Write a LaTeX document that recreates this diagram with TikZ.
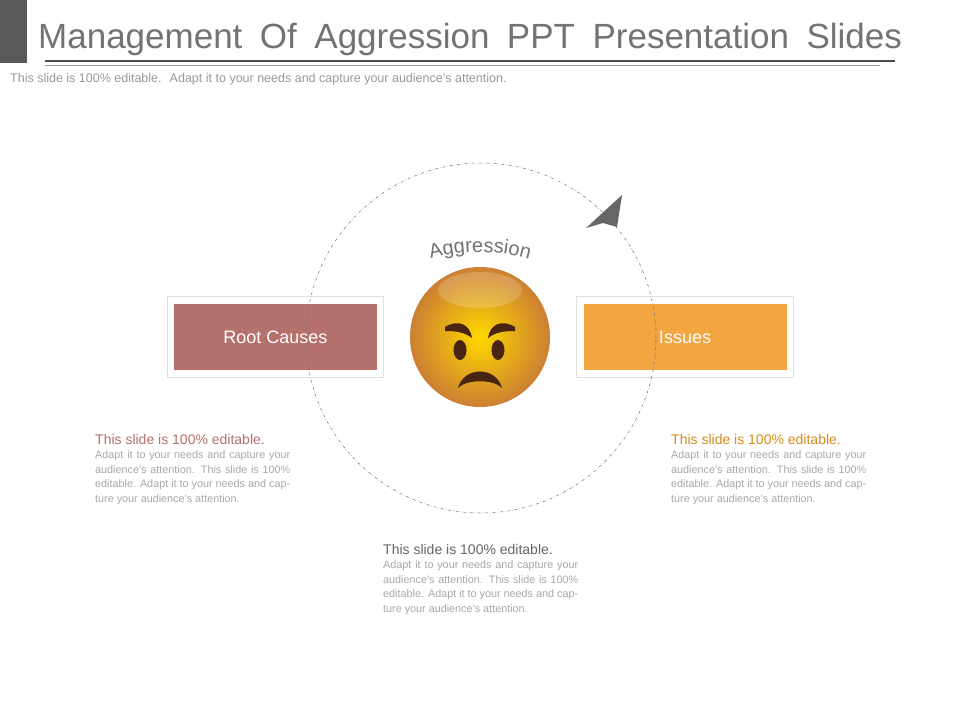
\documentclass[tikz,border=0pt]{standalone}
\usepackage{fontspec}
\setmainfont{Liberation Sans}
\usetikzlibrary{decorations.text,shadows}
\definecolor{rootc}{HTML}{B5716B}
\definecolor{issc}{HTML}{F2A541}
\definecolor{isst}{HTML}{D98B1A}
\definecolor{bodyg}{HTML}{A8A8A8}
\definecolor{brownf}{HTML}{4A2412}
\tikzset{
 frame/.style={fill=white,draw=black!12,line width=0.6pt},
 bar/.style={minimum width=203pt,minimum height=66pt,text=white,font=\fontsize{18}{20}\selectfont},
 blk/.style={text width=195pt,align=justify,anchor=north west,inner sep=0pt,text=bodyg,font=\fontsize{10.8}{14.5}\selectfont},
}
\newcommand{\blocktext}[1]{\hyphenpenalty=10000\exhyphenpenalty=10000{\color{#1}\fontsize{14}{17}\selectfont This slide is 100\% editable.}\par Adapt it to your needs and capture your audience's attention. This slide is 100\% editable. Adapt it to your needs and capture your audience's attention.}
\begin{document}
\begin{tikzpicture}[x=1pt,y=-1pt]
\useasboundingbox (0,0) rectangle (960,720);
\fill[white] (0,0) rectangle (960,720);
% header
\fill[black!65] (0,0) rectangle (27,63);
\node[anchor=base west,inner sep=0pt,text=black!55,font=\fontsize{35}{36}\selectfont] (title) at (38,48) {\spaceskip=0.5em Management Of Aggression PPT Presentation Slides};
\draw[black!70,line width=1.8pt] (45,61) -- (895,61);
\draw[black!40,line width=0.5pt] (45,65) -- (880,65);
\node[anchor=base west,inner sep=0pt,text=black!40,font=\fontsize{12.5}{14}\selectfont] (sub) at (10,82) {This slide is 100\% editable. \ Adapt it to your needs and capture your audience's attention.};
% boxes
\fill[frame] (167,296) rectangle (383,377);
\node[bar,fill=rootc] (root) at (275.5,337) {Root Causes};
\fill[frame] (576,296) rectangle (793,377);
\node[bar,fill=issc] (iss) at (685,337) {Issues};
% circle
\node[circle,minimum size=350pt,draw=black!55,dash dot,line width=0.5pt,inner sep=0pt] (cyc) at (481,338) {};
\fill[black!60] (622,195) -- (586,228) -- (603,223) -- (617,227) -- cycle;
% face
\shade[inner color=yellow!70!orange,outer color=brown!80!orange] (480,337) circle (70pt);
\node[circle,minimum size=140pt,inner sep=0pt] (face) at (480,337) {};
\fill[white,opacity=0.18] (480,290) ellipse (42pt and 18pt);
\fill[brownf] (460,350) ellipse (6.5pt and 10pt);
\fill[brownf] (498,350) ellipse (6.5pt and 10pt);
\fill[brownf] (445,327) .. controls (458,319) and (470,324) .. (472,338) .. controls (464,332) and (456,331) .. (445,331) -- cycle;
\fill[brownf] (515,327) .. controls (502,319) and (490,324) .. (488,338) .. controls (496,332) and (504,331) .. (515,331) -- cycle;
\fill[brownf] (458,388) .. controls (464,366) and (496,366) .. (502,388) .. controls (494,379) and (466,379) .. (458,388) -- cycle;
% curved label
\path[decorate,decoration={text along path,text align=center,text={|\fontsize{20}{22}\selectfont\color{black!55}|Aggression}}] (418.4,262.9) arc[start angle=-110,end angle=-70,radius=180];
% text blocks
\node[blk] (t1) at (95,434) {\blocktext{rootc}};
\node[blk] (t2) at (383,544) {\blocktext{black!60}};
\node[blk] (t3) at (671,434) {\blocktext{isst}};
\end{tikzpicture}
\end{document}
